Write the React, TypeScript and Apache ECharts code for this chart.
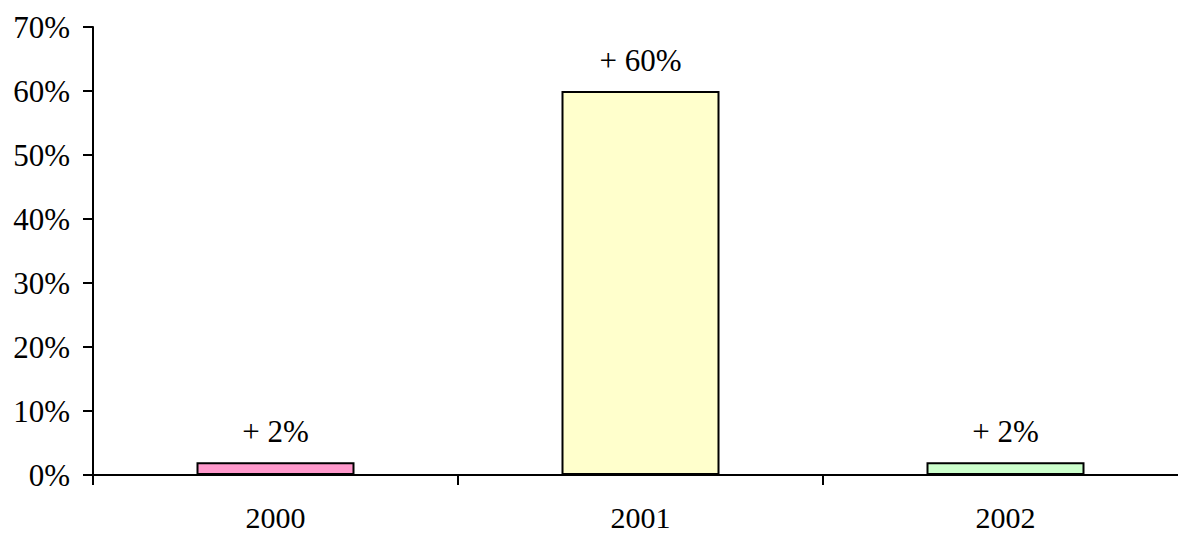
import React, { useEffect, useRef } from "react";
import * as echarts from "echarts";

const categories = ["2000", "2001", "2002"];
const values = [2, 60, 2];
const barLabels = ["+ 2%", "+ 60%", "+ 2%"];
const barColors = ["#FF99CC", "#FFFFCC", "#CCFFCC"];

export default function App() {
  const ref = useRef<HTMLDivElement>(null);
  useEffect(() => {
    const chart = echarts.init(ref.current!, undefined, { renderer: "svg" });
    const font = "Liberation Serif";
    chart.setOption({
      animation: false,
      backgroundColor: "#ffffff",
      grid: { left: 93, right: 2, top: 27, bottom: 60 },
      xAxis: {
        type: "category",
        data: categories,
        axisLine: { lineStyle: { color: "#000", width: 2 } },
        axisTick: { show: true, length: 10, lineStyle: { color: "#000", width: 2 } },
        axisLabel: {
          color: "#000",
          fontFamily: font,
          fontSize: 30,
          lineHeight: 28,
          margin: 28,
        },
      },
      yAxis: {
        type: "value",
        min: 0,
        max: 70,
        interval: 10,
        axisLine: { show: true, lineStyle: { color: "#000", width: 2 } },
        axisTick: { show: true, length: 10, lineStyle: { color: "#000", width: 2 } },
        splitLine: { show: false },
        axisLabel: {
          color: "#000",
          fontFamily: font,
          fontSize: 31,
          margin: 23,
          formatter: (v: number) => `${v}%`,
        },
      },
      series: [
        {
          type: "bar",
          barWidth: 158,
          data: values.map((v, i) => ({
            value: v,
            itemStyle: { color: barColors[i], borderColor: "#000", borderWidth: 2 },
            label: {
              show: true,
              position: "top",
              distance: 15,
              color: "#000",
              fontFamily: font,
              fontSize: 31,
              formatter: () => barLabels[i],
            },
          })),
        },
      ],
    });
    return () => chart.dispose();
  }, []);
  return (
    <div style={{ position: "fixed", left: 0, top: 0, width: 1178, height: 535, overflow: "hidden" }}>
      <div ref={ref} style={{ width: 1190, height: 535 }} />
    </div>
  );
}
